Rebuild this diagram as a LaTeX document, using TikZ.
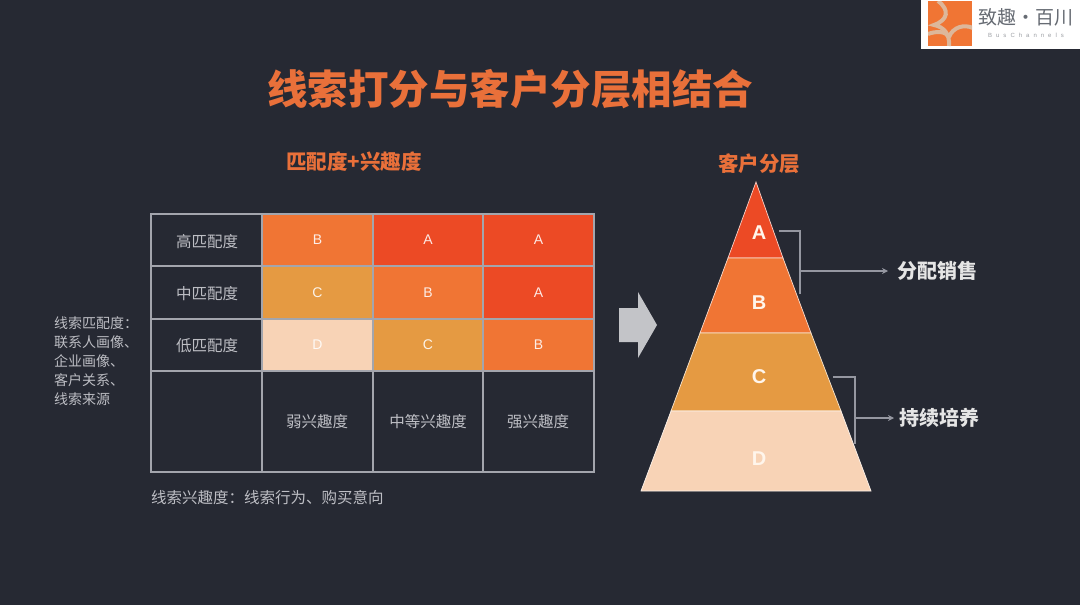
\documentclass[tikz,border=0pt]{standalone}
\usepackage{fontspec}
\setmainfont{Liberation Sans}
\newfontfamily\cjk{Noto Sans CJK SC}
\usetikzlibrary{arrows.meta}
\definecolor{bgc}{HTML}{262933}
\definecolor{gridc}{HTML}{A3A5AD}
\definecolor{ca}{HTML}{EC4A25}
\definecolor{cb}{HTML}{F07534}
\definecolor{cc}{HTML}{E59A42}
\definecolor{cd}{HTML}{F8D3B6}
\definecolor{titlec}{HTML}{E9703A}
\definecolor{txtc}{HTML}{BDBEC4}
\definecolor{logotxt}{HTML}{666B73}
\definecolor{bigarrow}{HTML}{C3C4C8}
\definecolor{logoarc}{HTML}{DDB79A}
\tikzset{
  x=1pt,y=-1pt,
  cell/.style={minimum width=110.5pt,minimum height=52.5pt,inner sep=0pt,text=white!88!#1,font=\fontsize{14}{14}\selectfont},
  lab/.style={text=txtc,inner sep=0pt,font=\cjk\fontsize{15.5}{15.5}\selectfont},
  layer/.style={fill=#1,draw=white!75!#1,line width=0.7pt},
  letter/.style={inner sep=0pt,text=white!92!orange,font=\bfseries\fontsize{20}{20}\selectfont},
  head/.style={text=titlec,inner sep=0pt,font=\cjk\bfseries\fontsize{20.5}{20.5}\selectfont},
  side/.style={text=white!90!black,inner sep=0pt,font=\cjk\bfseries\fontsize{20}{20}\selectfont},
  brace/.style={draw=gridc!115!white,line width=1.3pt},
  arrowed/.style={brace,-{Stealth[length=6pt,width=6pt]}},
  gridl/.style={draw=gridc,line width=1.3pt},
  logoline/.style={line width=4pt,draw=logoarc},
}
\begin{document}
\begin{tikzpicture}
\useasboundingbox (0,0) rectangle (1080,605);
\fill[bgc] (0,0) rectangle (1080,605);
% logo
\fill[white] (921,0) rectangle (1080,49);
\begin{scope}
\clip (928,1) rectangle (972,46);
\fill[cb] (928,1) rectangle (972,46);
\draw[logoline] (938,1) .. controls (950,10) and (948,20) .. (934,25) .. controls (944,27) and (950,34) .. (949,46);
\draw[logoline] (949,37) .. controls (953,27) and (964,24) .. (973,28);
\draw[logoline] (949,37) .. controls (946,31) and (936,31) .. (928,34);
\end{scope}
\node[inner sep=0pt,text=logotxt,font=\cjk\fontsize{19}{19}\selectfont] (logoa) at (1026,17) {致趣·百川};
\node[inner sep=0pt,text=logotxt!65,font=\fontsize{6}{6}\selectfont] (logob) at (1026,35) {B\hspace{4pt}u\hspace{4pt}s\hspace{4pt}C\hspace{4pt}h\hspace{4pt}a\hspace{4pt}n\hspace{4pt}n\hspace{4pt}e\hspace{4pt}l\hspace{4pt}s};
% headings
\node[text=titlec,inner sep=0pt,font=\cjk\bfseries\fontsize{40.5}{40.5}\selectfont] (title) at (510,89) {线索打分与客户分层相结合};
\node[head] (hm) at (354,162) {匹配度+兴趣度};
\node[head] (hr) at (759,164) {客户分层};
% matrix fills
\node[cell=cb,fill=cb] (c11) at (317.5,240) {B};
\node[cell=ca,fill=ca] (c12) at (428,240) {A};
\node[cell=ca,fill=ca] (c13) at (538.5,240) {A};
\node[cell=cc,fill=cc] (c21) at (317.5,292.5) {C};
\node[cell=cb,fill=cb] (c22) at (428,292.5) {B};
\node[cell=ca,fill=ca] (c23) at (538.5,292.5) {A};
\node[cell=cd,fill=cd] (c31) at (317.5,345) {D};
\node[cell=cc,fill=cc] (c32) at (428,345) {C};
\node[cell=cb,fill=cb] (c33) at (538.5,345) {B};
% grid
\draw[gridl] (151,214) rectangle (594,472);
\draw[gridl] (151,266) -- (594,266) (151,319) -- (594,319) (151,371) -- (594,371);
\draw[gridl] (262,214) -- (262,472) (373,214) -- (373,472) (483,214) -- (483,472);
\node[lab] (r1) at (207,242) {高匹配度};
\node[lab] (r2) at (207,294) {中匹配度};
\node[lab] (r3) at (207,346) {低匹配度};
\node[lab] (i1) at (317,422) {弱兴趣度};
\node[lab] (i2) at (428,422) {中等兴趣度};
\node[lab] (i3) at (538,422) {强兴趣度};
\node[lab,anchor=west,align=left,font=\cjk\fontsize{14}{19}\selectfont] (left) at (54,361) {线索匹配度：\\联系人画像、\\企业画像、\\客户关系、\\线索来源};
\node[lab,anchor=west] (bottom) at (151,498) {线索兴趣度：线索行为、购买意向};
% big arrow
\fill[bigarrow] (619,308) -- (638,308) -- (638,292) -- (657,325) -- (638,358) -- (638,342) -- (619,342) -- cycle;
% connectors behind pyramid
\coordinate (sa) at (779,231);
\coordinate (ka) at (800,231);
\coordinate (ea) at (800,294);
\coordinate (ja) at (800,271);
\coordinate (ta) at (888,271);
\coordinate (sc) at (833,377);
\coordinate (kc) at (855,377);
\coordinate (ec) at (855,444);
\coordinate (jc) at (855,418);
\coordinate (tc) at (894,418);
\draw[brace] (sa) -- (ka) -- (ea);
\draw[brace] (sc) -- (kc) -- (ec);
% pyramid
\draw[layer=ca] (756,182) -- (783,258) -- (728,258) -- cycle;
\draw[layer=cb] (728,258) -- (783,258) -- (811,333) -- (700,333) -- cycle;
\draw[layer=cc] (700,333) -- (811,333) -- (841,411) -- (671,411) -- cycle;
\draw[layer=cd] (671,411) -- (841,411) -- (871,491) -- (641,491) -- cycle;
\node[letter] (pa) at (759,233) {A};
\node[letter] (pb) at (759,303) {B};
\node[letter] (pc) at (759,377) {C};
\node[letter] (pd) at (759,459) {D};
\node[side] (s1) at (937.5,271) {分配销售};
\node[side] (s2) at (939.5,418) {持续培养};
\draw[arrowed] (ja) -- (ta);
\draw[arrowed] (jc) -- (tc);
\end{tikzpicture}
\end{document}
